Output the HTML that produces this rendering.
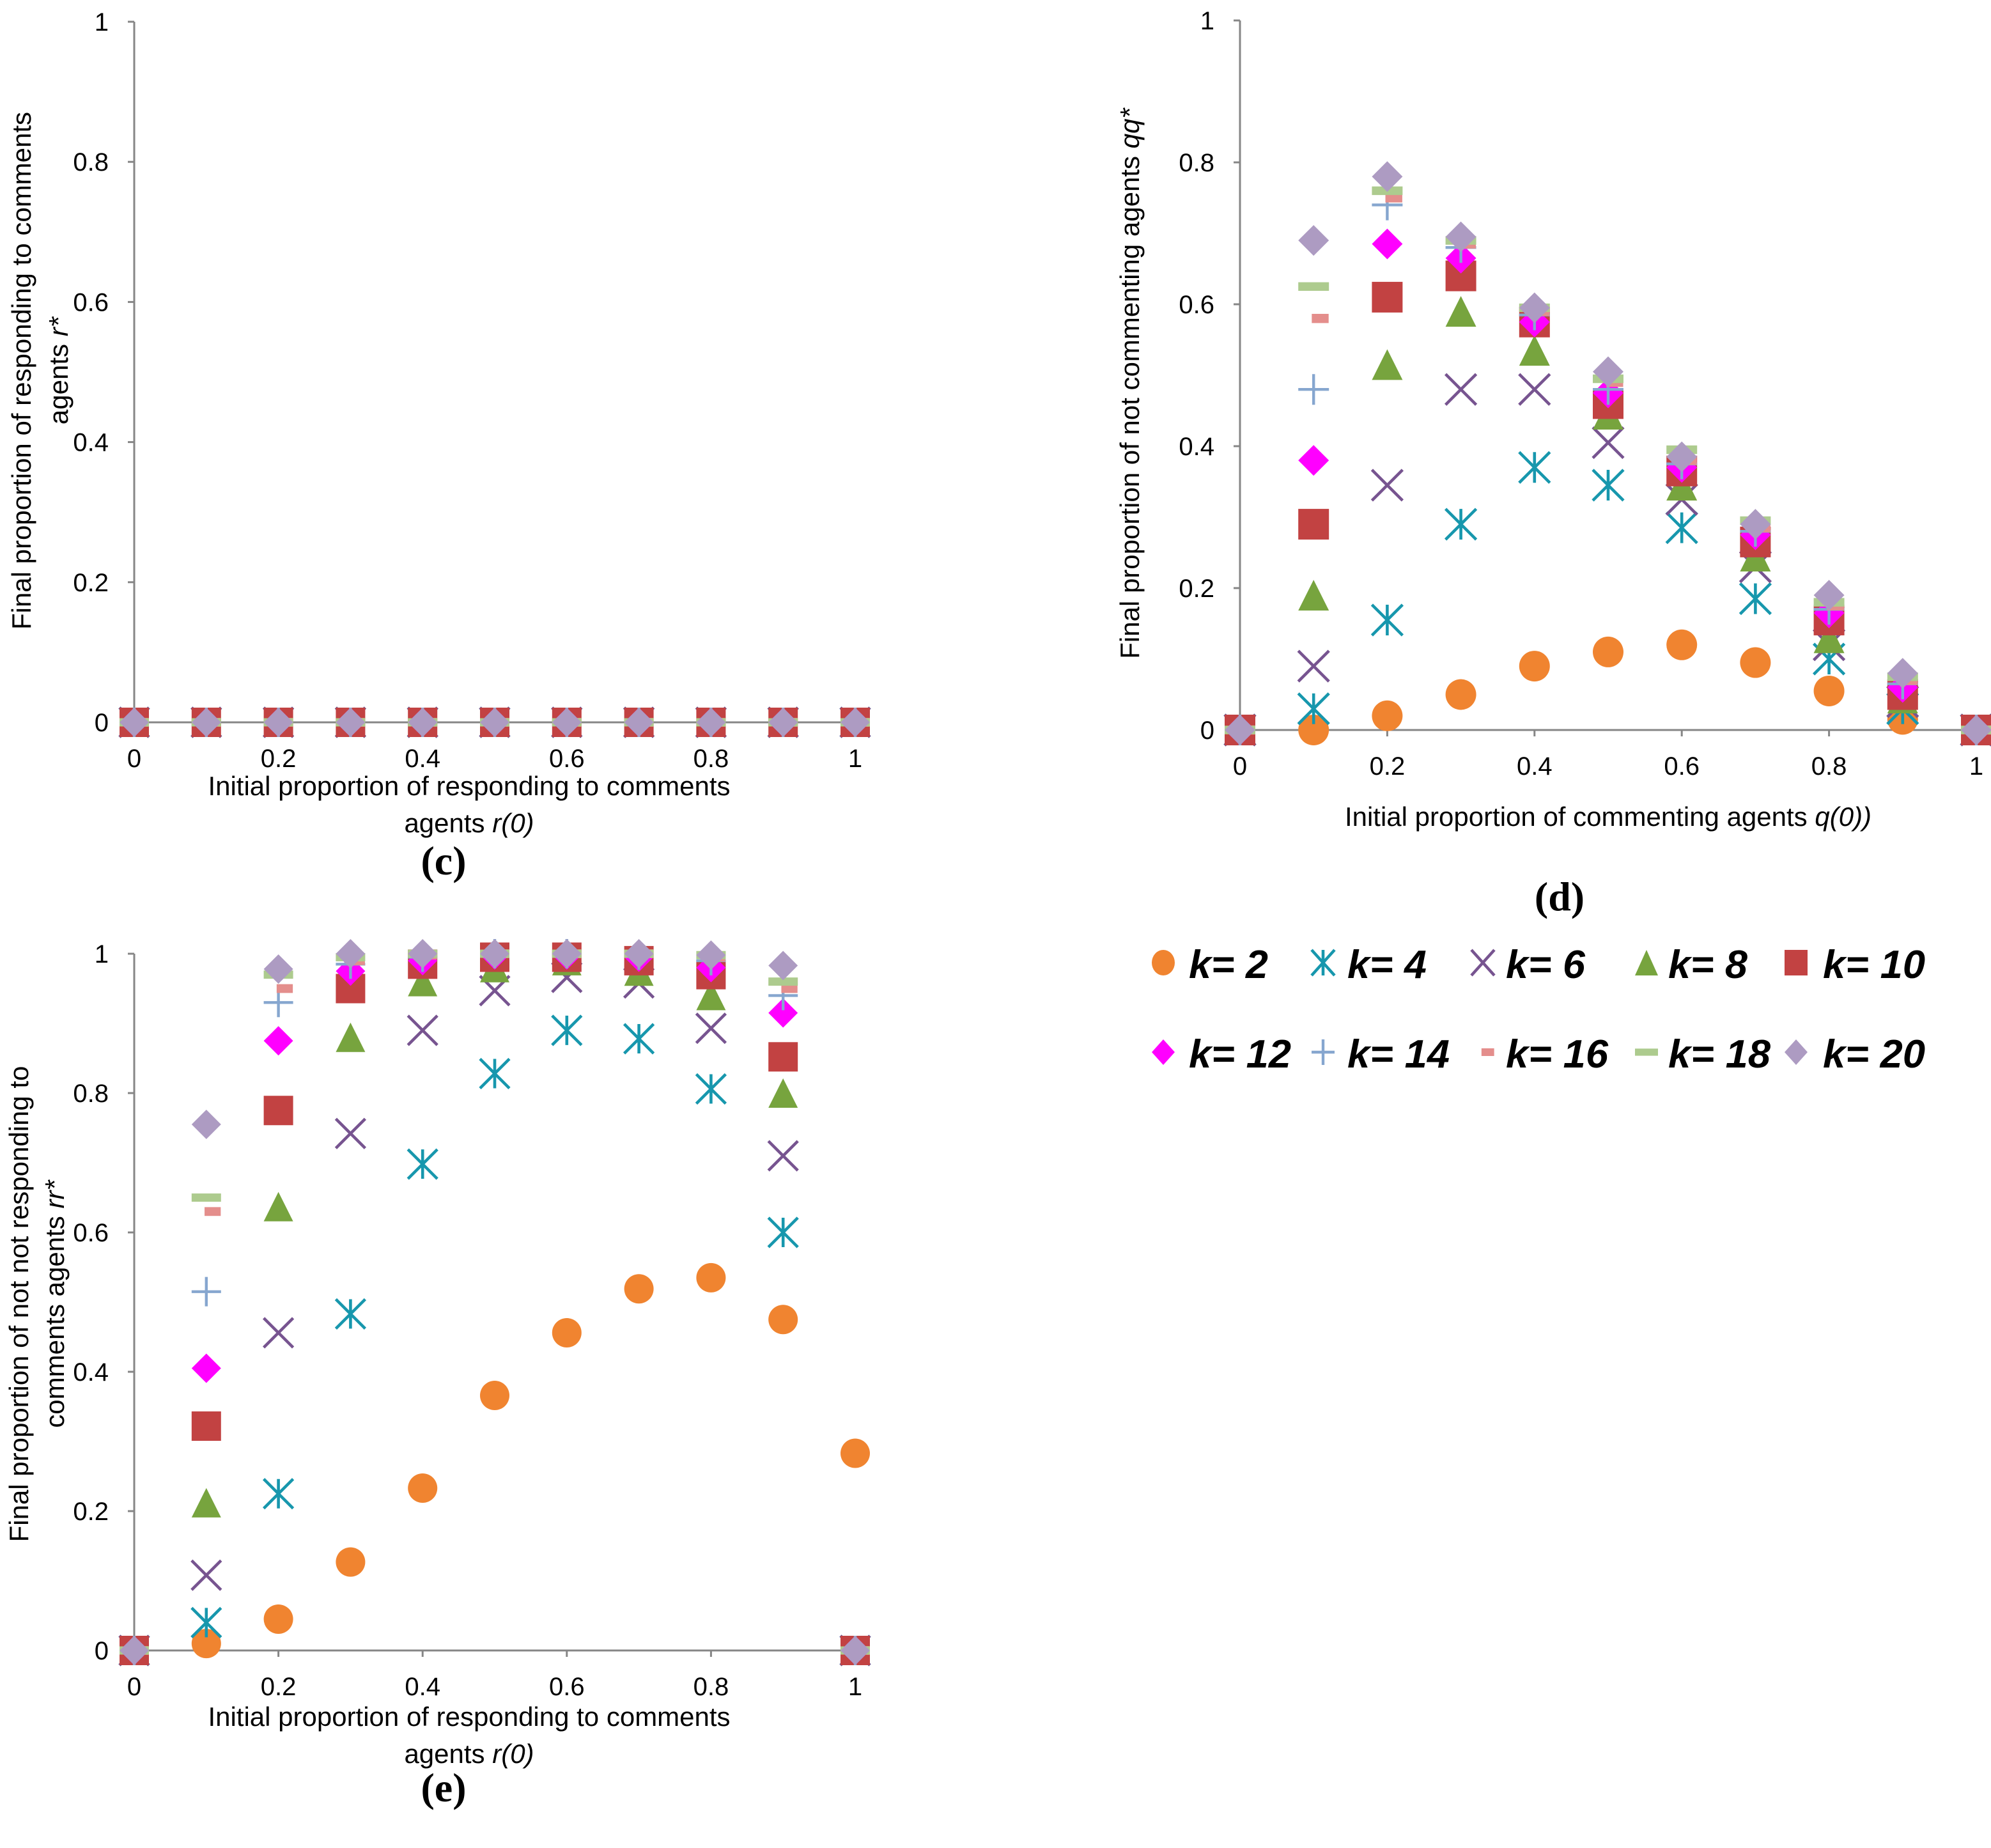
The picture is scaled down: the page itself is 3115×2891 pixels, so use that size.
<!DOCTYPE html>
<html><head><meta charset="utf-8"><style>
html,body{margin:0;padding:0;background:#fff}
svg{display:block}
text{font-family:"Liberation Sans",sans-serif;fill:#000}
</style></head><body>
<svg id="chart" width="3115" height="2891" viewBox="0 0 1557.5 1445.5" xmlns="http://www.w3.org/2000/svg">
<g id="root"></g>
</svg>
<script>
const xTicks=[0,0.2,0.4,0.6,0.8,1];
const yTicks=[0,0.2,0.4,0.6,0.8,1];
const xVals=[0,0.1,0.2,0.3,0.4,0.5,0.6,0.7,0.8,0.9,1];
const kLabels=["k= 2","k= 4","k= 6","k= 8","k= 10","k= 12","k= 14","k= 16","k= 18","k= 20"];
const cSeries=[
[0,0,0,0,0,0,0,0,0,0,0],[0,0,0,0,0,0,0,0,0,0,0],[0,0,0,0,0,0,0,0,0,0,0],[0,0,0,0,0,0,0,0,0,0,0],[0,0,0,0,0,0,0,0,0,0,0],
[0,0,0,0,0,0,0,0,0,0,0],[0,0,0,0,0,0,0,0,0,0,0],[0,0,0,0,0,0,0,0,0,0,0],[0,0,0,0,0,0,0,0,0,0,0],[0,0,0,0,0,0,0,0,0,0,0]];
const dK2=[0,0,0.02,0.05,0.09,0.11,0.12,0.095,0.055,0.015,0];
const dK4=[0,0.03,0.155,0.29,0.37,0.345,0.285,0.185,0.1,0.03,0];
const dK6=[0,0.09,0.345,0.48,0.48,0.405,0.325,0.23,0.12,0.04,0];
const dK8=[0,0.19,0.515,0.59,0.535,0.445,0.345,0.245,0.13,0.045,0];
const dK10=[0,0.29,0.61,0.64,0.575,0.46,0.365,0.265,0.155,0.05,0];
const dK12=[0,0.38,0.685,0.665,0.575,0.475,0.37,0.275,0.165,0.06,0];
const dK14=[0,0.48,0.74,0.68,0.585,0.48,0.375,0.28,0.17,0.065,0];
const dK16=[0,0.58,0.75,0.685,0.59,0.49,0.38,0.285,0.175,0.07,0];
const dK18=[0,0.625,0.76,0.69,0.595,0.495,0.395,0.295,0.18,0.075,0];
const dK20=[0,0.69,0.78,0.695,0.595,0.505,0.385,0.29,0.19,0.08,0];
const eK2=[0,0.01,0.045,0.127,0.233,0.366,0.456,0.519,0.535,0.475,0.283];
const eK4=[0,0.04,0.225,0.483,0.698,0.828,0.89,0.878,0.806,0.6,0];
const eK6=[0,0.108,0.456,0.742,0.89,0.947,0.966,0.958,0.893,0.71,0];
const eK8=[0,0.212,0.637,0.88,0.96,0.98,0.99,0.975,0.94,0.8,0];
const eK10=[0,0.322,0.775,0.95,0.985,0.995,0.995,0.99,0.97,0.852,0];
const eK12=[0,0.405,0.875,0.975,0.99,0.998,0.998,0.995,0.98,0.915,0];
const eK14=[0,0.515,0.93,0.985,0.995,1,1,0.998,0.99,0.94,0];
const eK16=[0,0.63,0.95,0.99,0.998,1,1,1,0.995,0.95,0];
const eK18=[0,0.65,0.97,0.995,1,1,1,1,0.998,0.96,0];
const eK20=[0,0.755,0.978,1,1,1,1,1,0.998,0.983,0];

const NS="http://www.w3.org/2000/svg";
const root=document.getElementById('root');
const styles=[
 {t:'circle',c:'#f08430'},{t:'star',c:'#1797ad'},{t:'x',c:'#775490'},{t:'tri',c:'#77a43e'},{t:'sq',c:'#c24242'},
 {t:'dia',c:'#ff00ff'},{t:'plus',c:'#86a6cf'},{t:'dash',c:'#e48e8c'},{t:'wdash',c:'#adcb8e'},{t:'dia',c:'#ad9bc2'}];
function el(tag,attrs,parent){const e=document.createElementNS(NS,tag);for(const k in attrs)e.setAttribute(k,attrs[k]);(parent||root).appendChild(e);return e;}
function marker(g,st,x,y,w,h){
 const c=st.c;let m;
 if(st.t==='circle')m=el('ellipse',{cx:x,cy:y,rx:w/2,ry:h/2,fill:c},g);
 else if(st.t==='sq')m=el('rect',{x:x-w/2,y:y-h/2,width:w,height:h,fill:c},g);
 else if(st.t==='tri')m=el('polygon',{points:`${x},${y-h/2} ${x+w/2},${y+h/2} ${x-w/2},${y+h/2}`,fill:c},g);
 else if(st.t==='dia')m=el('polygon',{points:`${x},${y-h/2} ${x+w/2},${y} ${x},${y+h/2} ${x-w/2},${y}`,fill:c},g);
 else if(st.t==='x')m=el('path',{d:`M${x-w/2} ${y-h/2}L${x+w/2} ${y+h/2}M${x+w/2} ${y-h/2}L${x-w/2} ${y+h/2}`,stroke:c,'stroke-width':2.3,fill:'none'},g);
 else if(st.t==='star')m=el('path',{d:`M${x-w/2} ${y-h/2}L${x+w/2} ${y+h/2}M${x+w/2} ${y-h/2}L${x-w/2} ${y+h/2}M${x} ${y-h/2}L${x} ${y+h/2}`,stroke:c,'stroke-width':2.3,fill:'none'},g);
 else if(st.t==='plus')m=el('path',{d:`M${x-w/2} ${y}L${x+w/2} ${y}M${x} ${y-h/2}L${x} ${y+h/2}`,stroke:c,'stroke-width':2.2,fill:'none'},g);
 else if(st.t==='dash')m=el('rect',{x:x-w*0.06,y:y-h*0.15,width:w*0.55,height:h*0.3,fill:c},g);
 else m=el('rect',{x:x-w/2,y:y-h*0.14,width:w,height:h*0.28,fill:c},g);
 return m;
}
function panel(name,P,series,mw,mh,ytitle,xtitle){
 const g=el('g',{});
 
 
 const xs=v=>P.x0+(P.x1-P.x0)*v, ys=v=>P.y0+(P.y1-P.y0)*v;
 const ax=el('path',{d:`M${P.x0} ${P.y1}L${P.x0} ${P.y0}M${P.x0} ${P.y0}L${P.x1} ${P.y0}`,stroke:'#868686','stroke-width':1.5,fill:'none'},g);
 
 
 yTicks.forEach(v=>{el('line',{x1:P.x0-5,x2:P.x0,y1:ys(v),y2:ys(v),stroke:'#868686','stroke-width':1.5},g);
  const t=el('text',{x:P.x0-20,y:ys(v)+7,'font-size':20,'text-anchor':'end'},g);t.textContent=String(v);
  
  });
 xTicks.forEach(v=>{el('line',{x1:xs(v),x2:xs(v),y1:P.y0,y2:P.y0+5,stroke:'#868686','stroke-width':1.5},g);
  const t=el('text',{x:xs(v),y:P.y0+35,'font-size':20,'text-anchor':'middle'},g);t.textContent=String(v);
  
  });
 series.forEach((s,i)=>{const sg=el('g',{},g);
  
  
  s.forEach((v,j)=>{marker(sg,styles[i],xs(xVals[j]),ys(v),mw,mh);});});
 ytitle.forEach(l=>{const t=el('text',{x:0,y:0,'font-size':21,'text-anchor':'middle',transform:`translate(${l.x},${l.y}) rotate(-90)`},g);t.innerHTML=l.s;
  
  });
 xtitle.forEach(l=>{const t=el('text',{x:l.x,y:l.y,'font-size':21,'text-anchor':'middle'},g);t.innerHTML=l.s;
  
  });
}
panel('panel-c',{x0:105,x1:669,y0:565,y1:17},cSeries,23,23,
 [{x:24,y:290,s:'Final proportion of responding to comments'},{x:53,y:290,s:'agents <tspan font-style="italic">r*</tspan>'}],
 [{x:367,y:622,s:'Initial proportion of responding to comments'},{x:367,y:651,s:'agents <tspan font-style="italic">r(0)</tspan>'}]);
panel('panel-d',{x0:970,x1:1546,y0:571,y1:16},[dK2,dK4,dK6,dK8,dK10,dK12,dK14,dK16,dK18,dK20],24,24,
 [{x:891,y:300,s:'Final proportion of not commenting agents <tspan font-style="italic">qq*</tspan>'}],
 [{x:1258,y:646,s:'Initial proportion of commenting agents <tspan font-style="italic">q(0))</tspan>'}]);
panel('panel-e',{x0:105,x1:669,y0:1291,y1:746},[eK2,eK4,eK6,eK8,eK10,eK12,eK14,eK16,eK18,eK20],23,23,
 [{x:22,y:1020,s:'Final proportion of not not responding to'},{x:50,y:1020,s:'comments agents <tspan font-style="italic">rr*</tspan>'}],
 [{x:367,y:1350,s:'Initial proportion of responding to comments'},{x:367,y:1379,s:'agents <tspan font-style="italic">r(0)</tspan>'}]);
[['caption-c','(c)',347,684],['caption-d','(d)',1220,712],['caption-e','(e)',347,1409]].forEach(c=>{
 const t=el('text',{x:c[2],y:c[3],'font-size':32,'font-weight':'bold','text-anchor':'middle',style:'font-family:"Liberation Serif",serif'});
 t.textContent=c[1];
 
 
});
const lg=el('g',{});


const lx=[910,1035,1160,1288,1405], tx=[930,1054,1178,1305,1426];
kLabels.forEach((k,i)=>{const r=Math.floor(i/5),c=i%5;const y=r?823:753;
 const eg=el('g',{},lg);
 
 
 marker(eg,styles[i],lx[c],y,18,20);
 const t=el('text',{x:tx[c],y:y+12,'font-size':31,'font-style':'italic','font-weight':'bold',textLength:k.length>4?80:62,lengthAdjust:'spacingAndGlyphs'},eg);t.textContent=k;});
</script>
</body></html>
